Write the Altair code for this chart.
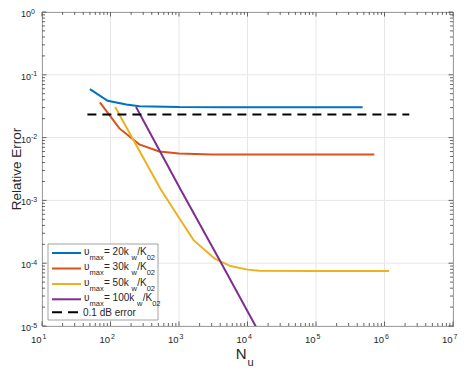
import altair as alt
import pandas as pd

# ---------------- data ----------------
N20 = [50, 91, 170, 263, 1000, 5000, 50000, 480000]
E20 = [0.059, 0.0386, 0.0336, 0.0317, 0.0306, 0.0305, 0.0305, 0.0305]
N30 = [70, 135, 263, 515, 1000, 3000, 30000, 710000]
E30 = [0.0365, 0.0140, 0.0078, 0.0060, 0.0056, 0.0054, 0.0054, 0.0054]
N50 = [117, 540, 1000, 1630, 3330, 5650, 10000, 15000, 100000, 1170000]
E50 = [0.0306, 0.0015, 5.3e-4, 2.33e-4, 1.18e-4, 9.0e-5, 7.9e-5, 7.6e-5, 7.5e-5, 7.5e-5]
N100 = [236, 1050, 4000, 13100, 20000]
E100 = [0.0306, 0.0015, 1.07e-4, 1.0e-5, 4.3e-6]
N_ERR = [46, 2300000]
E_ERR = [0.0233, 0.0233]

series_keys = ["u20", "u30", "u50", "u100"]
colors = ["#0072BD", "#D95319", "#EDB120", "#7E2F8E"]

# legend labels as (text, is_subscript) segments
legend_rows = [
    [("υ", 0), ("max", 1), (" = 20k", 0), ("w", 1), ("/K", 0), ("02", 1)],
    [("υ", 0), ("max", 1), (" = 30k", 0), ("w", 1), ("/K", 0), ("02", 1)],
    [("υ", 0), ("max", 1), (" = 50k", 0), ("w", 1), ("/K", 0), ("02", 1)],
    [("υ", 0), ("max", 1), (" = 100k", 0), ("w", 1), ("/K", 0), ("02", 1)],
    [("0.1 dB error", 0)],
]

x_major = [1e1, 1e2, 1e3, 1e4, 1e5, 1e6, 1e7]
x_exp = ["1", "2", "3", "4", "5", "6", "7"]
y_major = [1e-5, 1e-4, 1e-3, 1e-2, 1e-1, 1.0]
y_exp = ["-5", "-4", "-3", "-2", "-1", "0"]
minor_mult = [2, 3, 4, 5, 6, 7, 8, 9]

x_title = [("N", 0), ("u", 1)]
y_title = "Relative Error"

# ---------------- layout / style ----------------
W, H = 411, 314
FONT = "Liberation Sans"
TXT = "#262626"
TICK = "#404040"
GRID = "#e6e6e6"

xs = alt.Scale(type="log", domain=[1e1, 1e7], nice=False)
ys = alt.Scale(type="log", domain=[1e-5, 1.0], nice=False)

lines = []
for key, ns, es in zip(series_keys, [N20, N30, N50, N100], [E20, E30, E50, E100]):
    for n, e in zip(ns, es):
        lines.append({"series": key, "N": n, "E": e})
df_lines = pd.DataFrame(lines)
df_err = pd.DataFrame({"N": N_ERR, "E": E_ERR})

x_minor = [m * d for d in x_major[:-1] for m in minor_mult]
y_minor = [m * d for d in y_major[:-1] for m in minor_mult]
df_xmaj = pd.DataFrame({"v": x_major, "t": x_exp})
df_ymaj = pd.DataFrame({"v": y_major, "t": y_exp})
df_xmin = pd.DataFrame({"v": x_minor})
df_ymin = pd.DataFrame({"v": y_minor})

def X(f):
    return alt.X(f, type="quantitative", scale=xs, axis=None)

def Y(f):
    return alt.Y(f, type="quantitative", scale=ys, axis=None)

layers = []

# grid
layers.append(alt.Chart(df_xmaj).mark_rule(color=GRID, strokeWidth=1).encode(x=X("v")))
layers.append(alt.Chart(df_ymaj).mark_rule(color=GRID, strokeWidth=1).encode(y=Y("v")))

# data lines
layers.append(
    alt.Chart(df_lines).mark_line(clip=True, strokeWidth=2).encode(
        x=X("N"), y=Y("E"),
        color=alt.Color("series:N", scale=alt.Scale(domain=series_keys, range=colors), legend=None),
    )
)
layers.append(
    alt.Chart(df_err).mark_line(clip=True, strokeWidth=2, color="black", strokeDash=[9, 6]).encode(
        x=X("N"), y=Y("E")
    )
)

# inward ticks on all four sides
for df, ln in [(df_xmaj, 4.5), (df_xmin, 3)]:
    layers.append(alt.Chart(df).mark_rule(color=TICK, strokeWidth=0.8).encode(
        x=X("v"), y=alt.value(H), y2=alt.value(H - ln)))
    layers.append(alt.Chart(df).mark_rule(color=TICK, strokeWidth=0.8).encode(
        x=X("v"), y=alt.value(0), y2=alt.value(ln)))
for df, ln in [(df_ymaj, 4.5), (df_ymin, 3)]:
    layers.append(alt.Chart(df).mark_rule(color=TICK, strokeWidth=0.8).encode(
        y=Y("v"), x=alt.value(0), x2=alt.value(ln)))
    layers.append(alt.Chart(df).mark_rule(color=TICK, strokeWidth=0.8).encode(
        y=Y("v"), x=alt.value(W), x2=alt.value(W - ln)))

# tick labels (10 with superscript exponent)
layers.append(alt.Chart(df_xmaj).mark_text(font=FONT, fontSize=9.5, color=TXT, align="right",
                                           baseline="alphabetic", dx=-0.5).encode(
    x=X("v"), y=alt.value(H + 17), text=alt.value("10")))
layers.append(alt.Chart(df_xmaj).mark_text(font=FONT, fontSize=7, color=TXT, align="left",
                                           baseline="alphabetic", dx=0.5).encode(
    x=X("v"), y=alt.value(H + 13), text="t:N"))
layers.append(alt.Chart(df_ymaj).mark_text(font=FONT, fontSize=9, color=TXT, align="right",
                                           baseline="alphabetic", dy=5).encode(
    y=Y("v"), x=alt.value(-11), text=alt.value("10")))
layers.append(alt.Chart(df_ymaj).mark_text(font=FONT, fontSize=7, color=TXT, align="left",
                                           baseline="alphabetic", dy=1.5).encode(
    y=Y("v"), x=alt.value(-11), text="t:N"))

# axis titles
layers.append(alt.Chart(pd.DataFrame({"t": [y_title]})).mark_text(
    font=FONT, fontSize=13.5, color=TXT, angle=270, align="center", baseline="alphabetic").encode(
    x=alt.value(-21.5), y=alt.value(H / 2), text="t:N"))
layers.append(alt.Chart(pd.DataFrame({"t": [x_title[0][0]]})).mark_text(
    font=FONT, fontSize=15, color=TXT, align="right", baseline="alphabetic").encode(
    x=alt.value(W / 2 - 1), y=alt.value(H + 33), text="t:N"))
layers.append(alt.Chart(pd.DataFrame({"t": [x_title[1][0]]})).mark_text(
    font=FONT, fontSize=11, color=TXT, align="left", baseline="alphabetic").encode(
    x=alt.value(W / 2), y=alt.value(H + 39.5), text="t:N"))

# legend (manual, to allow subscripts)
BOX_L, BOX_R, BOX_T, BOX_B = 6, 116, H - 82, H - 6
row_y = [H - 73, H - 57.5, H - 42, H - 26.7, H - 13.7]
layers.append(alt.Chart(pd.DataFrame({"a": [0]})).mark_rect(
    fill="white", stroke="#8a8a8a", strokeWidth=0.8).encode(
    x=alt.value(BOX_L), x2=alt.value(BOX_R), y=alt.value(BOX_T), y2=alt.value(BOX_B)))

leg_lines = pd.DataFrame({"series": series_keys, "y": row_y[:4], "x0": [10] * 4, "x1": [39] * 4})
layers.append(alt.Chart(leg_lines).mark_rule(strokeWidth=2).encode(
    x=alt.X("x0:Q", scale=None, axis=None), x2="x1:Q",
    y=alt.Y("y:Q", scale=None, axis=None),
    color=alt.Color("series:N", scale=alt.Scale(domain=series_keys, range=colors), legend=None)))
layers.append(alt.Chart(pd.DataFrame({"y": [row_y[4]], "x0": [10], "x1": [36]})).mark_rule(
    strokeWidth=2, color="black", strokeDash=[10, 6]).encode(
    x=alt.X("x0:Q", scale=None, axis=None), x2="x1:Q", y=alt.Y("y:Q", scale=None, axis=None)))

# character widths (em) for Liberation Sans, used to place legend text segments
cw = {"υ": 0.548, "m": 0.833, "a": 0.556, "x": 0.5, " ": 0.278, "=": 0.584, "k": 0.5,
      "w": 0.722, "/": 0.278, "K": 0.667, ".": 0.278, "d": 0.556, "B": 0.667,
      "e": 0.556, "r": 0.333, "o": 0.556}
segs = []
for i, row in enumerate(legend_rows):
    px = 42 if len(row) > 1 else 41
    for text, sub in row:
        fs = 7.5 if sub else 10
        if len(row) == 1:
            py = row_y[i] + 3.5
        else:
            py = row_y[i] + (6.5 if sub else 1.5)
        segs.append({"t": text, "px": px, "py": py, "fs": fs})
        px += sum(cw.get(c, 0.556) for c in text) * fs + (0.3 if sub else 0)
df_segs = pd.DataFrame(segs)
layers.append(alt.Chart(df_segs).mark_text(font=FONT, color=TXT, align="left",
                                           baseline="alphabetic").encode(
    x=alt.X("px:Q", scale=None, axis=None), y=alt.Y("py:Q", scale=None, axis=None),
    size=alt.Size("fs:Q", scale=None, legend=None), text="t:N"))

chart = alt.layer(*layers).resolve_scale(
    x="independent", y="independent", color="independent", size="independent"
).properties(
    width=W, height=H,
    autosize=alt.AutoSizeParams(type="none"),
    padding={"left": 34, "top": 4, "right": 6, "bottom": 41},
).configure_view(stroke="#5a5a5a", strokeWidth=1)

chart.save("out.html", embed_options={"renderer": "svg", "actions": False})
